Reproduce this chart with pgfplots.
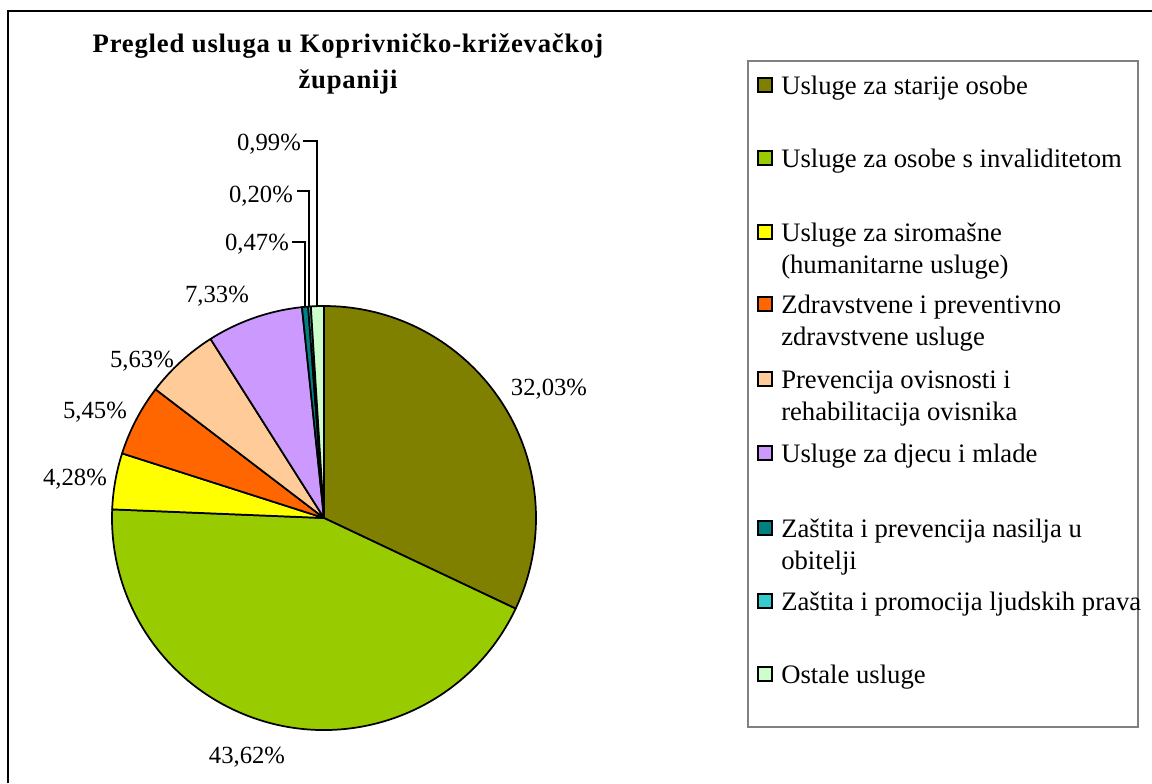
\documentclass[border=0pt]{standalone}
\usepackage{fontspec}
\setmainfont{Liberation Serif}
\usepackage{pgfplots}
\usepackage{pgfplotstable}
\pgfplotsset{compat=1.18}

\definecolor{cA}{HTML}{808000}
\definecolor{cB}{HTML}{99CC00}
\definecolor{cC}{HTML}{FFFF00}
\definecolor{cD}{HTML}{FF6600}
\definecolor{cE}{HTML}{FFCC99}
\definecolor{cF}{HTML}{CC99FF}
\definecolor{cG}{HTML}{008080}
\definecolor{cH}{HTML}{33CCCC}
\definecolor{cI}{HTML}{CCFFCC}
\definecolor{legframe}{HTML}{808080}

% share (%), colour, label, label x, label baseline y (pixel positions, y downwards)
\pgfplotstableread{
val   col lab         lx    ly
32.03 cA  {32,03\%}   549   395
43.62 cB  {43,62\%}   247   763
4.28  cC  {4,28\%}    75    485
5.45  cD  {5,45\%}    95    418
5.63  cE  {5,63\%}    142   367
7.33  cF  {7,33\%}    217   302
0.47  cG  {0,47\%}    257   250
0.20  cH  {0,20\%}    261   202
0.99  cI  {0,99\%}    269   150
}\piedata

\newcommand\cx{324}
\newcommand\cy{518}
\newcommand\R{159pt}% 212 px

\tikzset{every node/.append style={font=\fontsize{20}{24}\selectfont}}

\begin{document}
\fontsize{20}{24}\selectfont
\begin{tikzpicture}
% build the slices from the table
\gdef\slices{}
\gdef\cum{0}
\pgfplotsforeachungrouped \i in {0,...,8}{%
  \pgfplotstablegetelem{\i}{val}\of\piedata \let\v\pgfplotsretval
  \pgfplotstablegetelem{\i}{col}\of\piedata \let\c\pgfplotsretval
  \pgfplotstablegetelem{\i}{lab}\of\piedata \let\l\pgfplotsretval
  \pgfplotstablegetelem{\i}{lx}\of\piedata \let\lx\pgfplotsretval
  \pgfplotstablegetelem{\i}{ly}\of\piedata \let\ly\pgfplotsretval
  \pgfmathsetmacro\sa{90-3.6*\cum}%
  \pgfmathsetmacro\newcum{\cum+\v}%
  \xdef\cum{\newcum}%
  \pgfmathsetmacro\ea{90-3.6*\cum}%
  \xdef\slices{\unexpanded\expandafter{\slices}%
    \noexpand\filldraw[fill=\c,draw=black,line width=1.3pt,line join=round]
      (axis cs:\cx,\cy) -- ++(\sa:\R) arc[start angle=\sa,end angle=\ea,radius=\R] -- cycle;
    \noexpand\node[anchor=base,inner sep=0pt,font=\noexpand\fontsize{18.5}{22}\noexpand\selectfont] at (axis cs:\lx,\ly) {\unexpanded\expandafter{\l}};}%
}
\begin{axis}[
  hide axis, clip=false,
  x=0.75pt, y=0.75pt,
  xmin=0, xmax=1152, ymin=0, ymax=783,
  y dir=reverse,
]
\coordinate (TL) at (axis cs:0,0);
\coordinate (BR) at (axis cs:1152,783);
% outer frame
\draw[black, line width=2pt] (axis cs:8,783) -- (axis cs:8,11) -- (axis cs:1152,11);
% title
\node[anchor=base,inner sep=0pt,font=\fontsize{20}{24}\selectfont\bfseries\addfontfeatures{LetterSpace=3}] at (axis cs:348,52) {Pregled usluga u Koprivničko-križevačkoj};
\node[anchor=base,inner sep=0pt,font=\fontsize{20}{24}\selectfont\bfseries\addfontfeatures{LetterSpace=3}] at (axis cs:348,88) {županiji};
% pie
\slices
% leader lines for the small slices
\draw[black, line width=0.8pt] (axis cs:303,141) -- (axis cs:317,141) -- (axis cs:317,307);
\draw[black, line width=0.8pt] (axis cs:297,191) -- (axis cs:309,191) -- (axis cs:309,307);
\draw[black, line width=0.8pt] (axis cs:292,242) -- (axis cs:305,242) -- (axis cs:305,307);
% legend
\draw[legframe, line width=1.5pt] (axis cs:748,61) rectangle (axis cs:1138,727);
\foreach \col/\b in {cA/94, cB/167, cC/241, cD/313, cE/388, cF/462, cG/537, cH/610, cI/683}{
  \edef\tmp{\noexpand\filldraw[fill=\col,draw=black,line width=1.2pt] (axis cs:758,\b-16) rectangle (axis cs:772,\b-2);}
  \tmp
}
\node[anchor=base west,inner sep=0pt] at (axis cs:781,94) {Usluge za starije osobe};
\node[anchor=base west,inner sep=0pt] at (axis cs:781,167) {Usluge za osobe s invaliditetom};
\node[anchor=base west,inner sep=0pt] at (axis cs:781,241) {Usluge za siromašne};
\node[anchor=base west,inner sep=0pt] at (axis cs:781,273) {(humanitarne usluge)};
\node[anchor=base west,inner sep=0pt] at (axis cs:781,313) {Zdravstvene i preventivno};
\node[anchor=base west,inner sep=0pt] at (axis cs:781,345) {zdravstvene usluge};
\node[anchor=base west,inner sep=0pt] at (axis cs:781,388) {Prevencija ovisnosti i};
\node[anchor=base west,inner sep=0pt] at (axis cs:781,420) {rehabilitacija ovisnika};
\node[anchor=base west,inner sep=0pt] at (axis cs:781,462) {Usluge za djecu i mlade};
\node[anchor=base west,inner sep=0pt] at (axis cs:781,537) {Zaštita i prevencija nasilja u};
\node[anchor=base west,inner sep=0pt] at (axis cs:781,569) {obitelji};
\node[anchor=base west,inner sep=0pt] at (axis cs:781,610) {Zaštita i promocija ljudskih prava};
\node[anchor=base west,inner sep=0pt] at (axis cs:781,683) {Ostale usluge};
\end{axis}
\pgfresetboundingbox
\path (TL) rectangle (BR);
\end{tikzpicture}
\end{document}
